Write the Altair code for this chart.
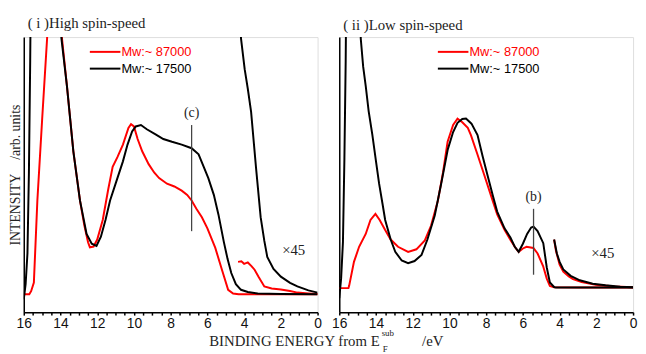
import altair as alt
import pandas as pd

# ---------------- data ----------------
# Panel (i) High spin-speed
L_red_x = [16, 15.7, 15.6, 15.45, 15.26, 15.0, 14.73, 14.6, 14.0, 13.92, 13.65, 13.3, 12.94, 12.7, 12.5, 12.4,
           12.2, 12.0, 11.7, 11.4, 11.16, 10.9, 10.6, 10.3, 10.16, 10.0, 9.8, 9.55, 9.2, 8.9, 8.63, 8.2, 7.8,
           7.4, 7.1, 6.86, 6.6, 6.3, 6.0, 5.57, 5.2, 4.87, 4.6, 4.3, 2.0, 0]
L_red_y = [6.4, 6.4, 7.5, 10.6, 40, 69, 98, 130, 130, 98, 81, 57.6, 40, 31, 25, 23.2,
           23.5, 26, 33, 44, 52, 55.5, 60, 66, 67.3, 66.5, 62, 57.6, 53, 50, 48, 46, 45,
           43.5, 42, 40, 37, 34, 30, 23, 15, 8, 6.7, 6.4, 6.4, 6.4]
L_blk_x = [16, 15.9, 15.8, 15.72, 15.65, 15.6, 14.1, 13.95, 13.65, 13.3, 12.94, 12.58, 12.3, 12.04, 11.8,
           11.55, 11.3, 10.95, 10.6, 10.35, 10.1, 9.9, 9.62, 9.3, 8.8, 8.4, 7.93, 7.4, 6.86, 6.48, 6.2,
           5.95, 5.65, 5.4, 5.1, 4.9, 4.7, 4.45, 4.17, 3.8, 3.26, 2.0, 0]
L_blk_y = [4.6, 10, 21, 50, 90, 130, 130, 98, 81, 57.6, 40, 28, 24.5, 23.7, 27,
           33, 40, 47, 54, 60, 64.7, 66.5, 67, 65.5, 63.6, 62, 61, 60, 58.7, 56.5, 52,
           48, 42, 35, 25, 19, 14, 10, 8, 7.2, 6.7, 6.5, 6.4]
L_red45_x = [4.33, 4.15, 4.0, 3.8, 3.6, 3.43, 3.2, 2.9, 2.5, 2.0, 1.5, 1.1, 0.5, 0]
L_red45_y = [18, 18.2, 17.3, 17.8, 16.5, 15.2, 12.5, 9.2, 8.5, 8.1, 7.6, 7.0, 6.7, 6.5]
L_blk45_x = [4.25, 4.17, 3.97, 3.8, 3.62, 3.35, 3.1, 2.9, 2.74, 2.4, 2.0, 1.5, 1.1, 0.5, 0]
L_blk45_y = [130, 98, 87, 80, 71.7, 51.6, 34, 25.5, 19.8, 15.5, 12.7, 10.5, 9.2, 7.8, 7.0]

# Panel (ii) Low spin-speed
R_red_x = [16, 15.5, 15.46, 15.2, 14.92, 14.56, 14.3, 14.03, 13.8, 13.5, 13.2, 12.8, 12.25, 11.8, 11.34,
           11.0, 10.63, 10.35, 10.1, 9.8, 9.56, 9.3, 9.0, 8.83, 8.5, 8.1, 7.75, 7.4, 7.0, 6.66, 6.4, 6.23,
           6.0, 5.8, 5.43, 5.2, 4.9, 4.7, 4.53, 4.3, 3.0, 0]
R_red_y = [8.6, 8.6, 9.5, 18, 23.4, 28, 33, 35.2, 33, 29.4, 26, 23.4, 21.6, 22.5, 25.7,
           31, 39.9, 50, 61, 67, 69.3, 68, 66, 63.4, 57, 49, 42, 35, 29.5, 25.7, 23, 21.6,
           22.8, 23.4, 23, 21, 16.5, 12, 9.4, 8.9, 8.8, 8.8]
R_blk_x = [16, 15.9, 15.8, 15.72, 15.65, 15.6, 14.9, 14.83, 14.7, 14.56, 14.4, 14.2, 14.0, 13.83, 13.65,
           13.5, 13.2, 12.95, 12.6, 12.25, 11.9, 11.52, 11.2, 10.8, 10.45, 10.09, 9.8, 9.56, 9.3, 9.1,
           8.8, 8.47, 8.2, 7.93, 7.65, 7.4, 7.0, 6.68, 6.45, 6.23, 6.0, 5.77, 5.55, 5.42, 5.2, 4.89,
           4.7, 4.53, 4.3, 4.2, 0]
R_blk_y = [5, 12, 25, 55, 90, 130, 130, 98, 88, 81, 72, 63.6, 54, 46, 39,
           33, 26, 21.6, 18.5, 17.5, 18.3, 20.5, 26, 34.6, 46, 58.3, 64.5, 67.8, 69.2, 69.3,
           67.5, 63.4, 56, 49.1, 42, 36, 30, 26.7, 23.5, 21.6, 24.5, 28, 30.3, 30.6, 29, 24.7,
           16, 10.6, 9, 8.8, 8.8]
R_red45_x = [4.3, 4.2, 4.0, 3.8, 3.5, 3.27, 2.8, 2.03, 1.0, 0]
R_red45_y = [26, 22, 17, 14.5, 12.8, 11.8, 10.8, 9.8, 9.2, 8.9]
R_blk45_x = [4.3, 4.15, 4.0, 3.8, 3.4, 2.9, 2.2, 1.5, 0.7, 0]
R_blk45_y = [26, 21, 18, 15.3, 13, 11.4, 10.2, 9.6, 9.1, 8.9]

SERIES = ["Mw:~ 87000", "Mw:~ 17500"]
COLORS = ["#ff0000", "#000000"]

# markers: (c) in panel i, (b) in panel ii
L_mark = {"label": "(c)", "x": 6.86, "y1": 29, "y2": 67, "ly": 69}
R_mark = {"label": "(b)", "x": 5.42, "y1": 13.4, "y2": 37, "ly": 38.8}
L_x45 = {"x": 1.3, "y": 22.3}
R_x45 = {"x": 1.65, "y": 21.2}

PANEL_TITLES = ["( i )High spin-speed", "( ii )Low spin-speed"]
Y_TITLE = "INTENSITY\u00a0\u00a0\u00a0\u00a0/arb. units"
X_TICKS = [v / 2 for v in range(0, 33)]

W, H = 298, 279
SERIF = "Liberation Serif"
SANS = "Liberation Sans Narrow, Liberation Sans, Arial, sans-serif"


def seg_df(x, y, series, seg):
    return pd.DataFrame({"x": x, "y": y, "series": series, "seg": seg})


def panel(red_x, red_y, blk_x, blk_y, r45x, r45y, b45x, b45y, mark, x45, title, first, title_y, leg_x):
    red = pd.concat([seg_df(red_x, red_y, SERIES[0], "main"), seg_df(r45x, r45y, SERIES[0], "x45")])
    blk = pd.concat([seg_df(blk_x, blk_y, SERIES[1], "main"), seg_df(b45x, b45y, SERIES[1], "x45")])

    xscale = alt.Scale(domain=[16, 0], nice=False, zero=False)
    yscale = alt.Scale(domain=[0, 98.5], nice=False)
    xaxis = alt.Axis(values=X_TICKS, labelExpr="datum.value % 2 == 0 ? format(datum.value, 'd') : ''",
                     labelOverlap=False, labelFlush=False, grid=False, tickSize=3, tickWidth=1.5,
                     tickColor="#000", domainColor="#000", domainWidth=1.5,
                     labelFont=SANS, labelFontSize=14, labelColor="#111", labelPadding=2,
                     title="")
    yaxis = alt.Axis(labels=False, ticks=False, grid=False, domainColor="#000", domainWidth=1.5,
                     title=Y_TITLE if first else "", titleFont=SERIF,
                     titleFontSize=14, titleFontWeight="normal", titleColor="#222", titlePadding=1)

    def X(f):
        return alt.X(f, scale=xscale, axis=xaxis)

    def Y(f):
        return alt.Y(f, scale=yscale, axis=yaxis)

    cenc = alt.Color("series:N", scale=alt.Scale(domain=SERIES, range=COLORS), legend=None)

    l_red = alt.Chart(red).mark_line(clip=True, strokeWidth=2).encode(
        x=X("x:Q"), y=Y("y:Q"), color=cenc, detail="seg:N")
    l_blk = alt.Chart(blk).mark_line(clip=True, strokeWidth=2).encode(
        x=X("x:Q"), y=Y("y:Q"), color=cenc, detail="seg:N")

    mdf = pd.DataFrame([mark])
    rule = alt.Chart(mdf).mark_rule(color="#444", strokeWidth=1.3).encode(x=X("x:Q"), y=Y("y1:Q"), y2="y2:Q")
    mtext = alt.Chart(mdf).mark_text(font=SERIF, fontSize=14, color="#222", baseline="bottom").encode(
        x=X("x:Q"), y=Y("ly:Q"), text="label:N")
    x45 = alt.Chart(pd.DataFrame([x45])).mark_text(font=SERIF, fontSize=15, color="#222").encode(
        x=X("x:Q"), y=Y("y:Q"), text=alt.value("×45"))

    one = pd.DataFrame({"a": [0]})
    ttl = alt.Chart(one).mark_text(font=SERIF, fontSize=15, color="#222", align="left", baseline="middle").encode(
        x=alt.value(4), y=alt.value(title_y), text=alt.value(title))

    leg = []
    for i, (s, c) in enumerate(zip(SERIES, COLORS)):
        yy = 15 + 17 * i
        leg.append(alt.Chart(one).mark_rule(color=c, strokeWidth=2).encode(
            x=alt.value(leg_x), x2=alt.value(leg_x + 31), y=alt.value(yy)))
        leg.append(alt.Chart(one).mark_text(font="Liberation Sans", fontSize=13, color=c, align="left",
                                            baseline="middle").encode(
            x=alt.value(leg_x + 32), y=alt.value(yy), text=alt.value(s)))

    layers = [l_red, l_blk, rule, mtext, x45, ttl] + leg
    if first:
        xt = [
            alt.Chart(one).mark_text(font=SERIF, fontSize=15, color="#222", align="right", baseline="alphabetic").encode(
                x=alt.value(361), y=alt.value(313), text=alt.value("BINDING ENERGY from E")),
            alt.Chart(one).mark_text(font=SERIF, fontSize=9, color="#222", align="left", baseline="alphabetic").encode(
                x=alt.value(363), y=alt.value(303), text=alt.value("sub")),
            alt.Chart(one).mark_text(font=SERIF, fontSize=9, color="#222", align="left", baseline="alphabetic").encode(
                x=alt.value(364), y=alt.value(319), text=alt.value("F")),
            alt.Chart(one).mark_text(font=SERIF, fontSize=15, color="#222", align="left", baseline="alphabetic").encode(
                x=alt.value(404), y=alt.value(313), text=alt.value("/eV")),
        ]
        layers += xt
    return alt.layer(*layers).properties(width=W, height=H)


left = panel(L_red_x, L_red_y, L_blk_x, L_blk_y, L_red45_x, L_red45_y, L_blk45_x, L_blk45_y,
             L_mark, L_x45, PANEL_TITLES[0], True, -14, 67)
right = panel(R_red_x, R_red_y, R_blk_x, R_blk_y, R_red45_x, R_red45_y, R_blk45_x, R_blk45_y,
              R_mark, R_x45, PANEL_TITLES[1], False, -12, 100)

chart = alt.hconcat(left, right, spacing=22, bounds="flush").properties(
    padding={"left": 0, "top": 5, "right": 0, "bottom": 0}
).configure_view(stroke=None).configure(background="white")

chart.save("out.html", embed_options={"renderer": "svg", "actions": False})
